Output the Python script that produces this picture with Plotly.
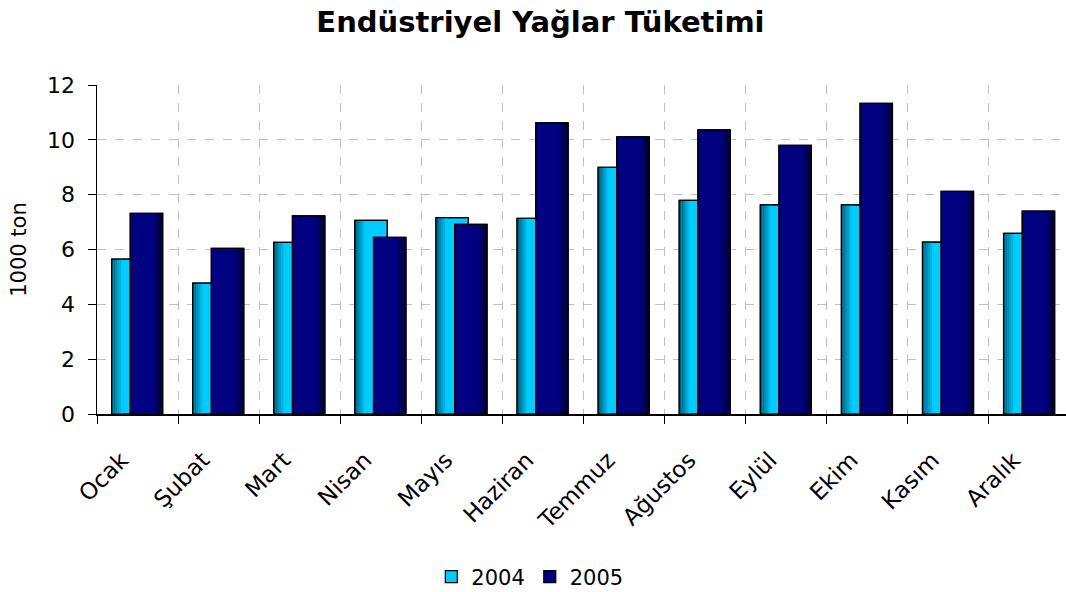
import plotly.graph_objects as go

months = ["Ocak", "Şubat", "Mart", "Nisan", "Mayıs", "Haziran", "Temmuz",
          "Ağustos", "Eylül", "Ekim", "Kasım", "Aralık"]
y2004 = [5.65, 4.77, 6.26, 7.06, 7.16, 7.14, 9.00, 7.79, 7.63, 7.63, 6.27, 6.59]
y2005 = [7.32, 6.04, 7.23, 6.44, 6.92, 10.62, 10.11, 10.36, 9.80, 11.33, 8.12, 7.40]
series_names = ["2004", "2005"]
y_ticks = [0, 2, 4, 6, 8, 10, 12]

FONT = "DejaVu Sans"
W = 0.40
OFF = {"2004": -0.32, "2005": -0.09}
MAIN = {"2004": "#00CCFF", "2005": "#000080"}


def hexmix(c1, c2, t):
    a = [int(c1[i:i + 2], 16) for i in (1, 3, 5)]
    b = [int(c2[i:i + 2], 16) for i in (1, 3, 5)]
    return "#" + "".join(f"{round(a[k] + (b[k] - a[k]) * t):02x}" for k in range(3))


fig = go.Figure()


def add_series(name, vals, shade_from, shade_to, side, frac, rank):
    off = OFF[name]
    fig.add_trace(go.Bar(
        x=months, y=vals, name=name, offset=off, width=W,
        marker=dict(color=MAIN[name], line=dict(color="#000000", width=1.2)),
        legendrank=rank, hoverinfo="skip"))
    n = 6
    sw = W * frac / n
    for k in range(n):
        t = k / (n - 1)
        if side == "left":
            o = off + k * sw
        else:
            o = off + W - (k + 1) * sw
        fig.add_trace(go.Bar(
            x=months, y=vals, offset=o, width=sw * 1.05,
            marker=dict(color=hexmix(shade_from, shade_to, t), line=dict(width=0)),
            showlegend=False, hoverinfo="skip"))
    fig.add_trace(go.Bar(
        x=months, y=vals, offset=off, width=W,
        marker=dict(color="rgba(0,0,0,0)", line=dict(color="#000000", width=1.2)),
        showlegend=False, hoverinfo="skip"))


add_series("2004", y2004, "#00607f", "#00c8f8", "left", 0.35, 1)
add_series("2005", y2005, "#00002e", "#000078", "right", 0.30, 2)

fig.update_layout(
    width=1066, height=592,
    barmode="overlay",
    plot_bgcolor="white", paper_bgcolor="white",
    margin=dict(l=97, r=0, t=85, b=178),
    font=dict(family=FONT, size=21, color="#000000"),
    title=dict(text="<b>Endüstriyel Yağlar Tüketimi</b>",
               x=0.507, xref="container", xanchor="center",
               y=1 - 22 / 592, yref="container", yanchor="middle",
               font=dict(family=FONT, size=29, color="#000000")),
    legend=dict(orientation="h", xref="container", yref="container",
                x=0.497, xanchor="center", y=1 - 577 / 592, yanchor="middle",
                font=dict(family=FONT, size=21), itemwidth=30,
                traceorder="normal", bgcolor="rgba(0,0,0,0)"),
    showlegend=True,
)

fig.update_xaxes(
    type="category", range=[-0.5, 11.45],
    tickson="boundaries", ticks="outside", ticklen=8, tickcolor="#000000",
    tickangle=-45, tickfont=dict(family=FONT, size=23),
    ticklabelstandoff=22, ticklabelshift=-16,
    showline=True, linecolor="#000000", linewidth=1.5,
    showgrid=True, gridcolor="#C0C0C0", griddash="dash", gridwidth=1,
)
fig.update_yaxes(
    range=[0, 12], tickvals=y_ticks, ticks="outside", ticklen=8,
    tickcolor="#000000", tickfont=dict(family=FONT, size=22),
    ticklabelstandoff=8,
    title=dict(text="1000 ton", font=dict(family=FONT, size=21), standoff=14),
    showline=True, linecolor="#000000", linewidth=1.5,
    showgrid=True, gridcolor="#C0C0C0", griddash="dash", gridwidth=1,
    zeroline=False,
)

fig.write_html("out.html",
               config={"displayModeBar": False, "staticPlot": True},
               post_script="document.body.style.margin='0';document.body.style.overflow='hidden';")
